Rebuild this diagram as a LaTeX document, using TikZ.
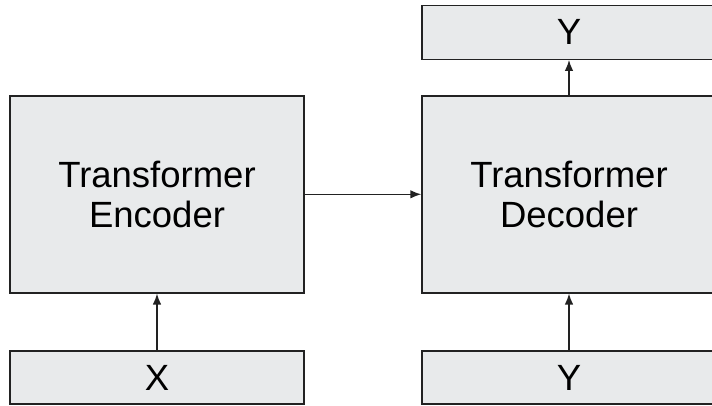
\documentclass[tikz,border=0pt]{standalone}
\usepackage{fontspec}
\setmainfont{Liberation Sans}
\usetikzlibrary{arrows.meta}
\definecolor{boxfill}{HTML}{E8EAEB}
\definecolor{boxline}{HTML}{222222}
\begin{document}
\begin{tikzpicture}[x=1pt,y=1pt,
  blk/.style={draw=boxline,fill=boxfill,line width=1.4pt,inner sep=0pt,
    minimum width=294pt,align=center,font=\fontsize{36.5}{40}\selectfont},
  conn/.style={draw=boxline,line width=1.4pt,-{Latex[length=11pt,width=8.5pt]}}]
\useasboundingbox (0,0) rectangle (712,-405);
\node[blk,minimum height=197pt] (enc) at (157,-194.3) {Transformer\\Encoder};
\node[blk,minimum height=53pt] (x) at (157,-377.5) {X};
\node[blk,minimum height=197pt] (dec) at (569,-194.3) {Transformer\\Decoder};
\node[blk,minimum height=54pt] (yout) at (569,-32.2) {Y};
\node[blk,minimum height=53pt] (yin) at (569,-377.5) {Y};
\draw[conn] (x) -- (enc);
\draw[conn] (enc) -- (dec);
\draw[conn] (yin) -- (dec);
\draw[conn] (dec) -- (yout);
\end{tikzpicture}
\end{document}
